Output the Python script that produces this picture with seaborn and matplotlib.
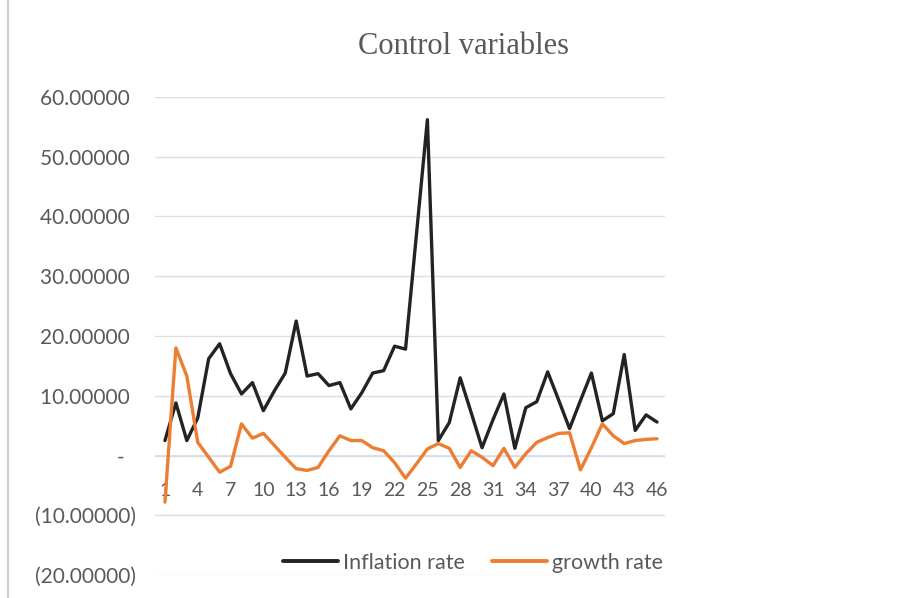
import numpy as np
import pandas as pd
import matplotlib
matplotlib.use("Agg")
import matplotlib.pyplot as plt
from matplotlib.lines import Line2D
from matplotlib.ticker import FuncFormatter, FixedLocator
import seaborn as sns

periods = list(range(1, 47))
inflation_rate = [2.5, 8.8, 2.5, 6.3, 16.2, 18.7, 13.7, 10.3, 12.2, 7.5,
                  10.8, 13.8, 22.5, 13.3, 13.7, 11.7, 12.2, 7.8, 10.5, 13.8,
                  14.2, 18.3, 17.8, 37.0, 56.2, 2.5, 5.5, 13.0, 7.2, 1.3,
                  6.0, 10.3, 1.2, 8.0, 9.0, 14.0, 9.3, 4.5, 9.2, 13.8,
                  5.8, 7.0, 16.9, 4.2, 6.8, 5.6]
growth_rate = [-7.8, 18.0, 13.3, 2.2, -0.3, -2.8, -1.8, 5.3, 2.9, 3.7,
               1.7, -0.3, -2.2, -2.5, -2.0, 0.8, 3.3, 2.5, 2.5, 1.3,
               0.8, -1.2, -3.8, -1.4, 1.1, 2.0, 1.2, -2.0, 0.8, -0.3,
               -1.7, 1.2, -2.0, 0.3, 2.2, 3.0, 3.7, 3.8, -2.4, 1.3,
               5.3, 3.3, 2.0, 2.5, 2.7, 2.8]
series_names = ["Inflation rate", "growth rate"]
x_tick_labels = list(range(1, 47, 3))
y_ticks = [-20, -10, 0, 10, 20, 30, 40, 50, 60]

df = pd.DataFrame({
    "period": periods * 2,
    "value": inflation_rate + growth_rate,
    "series": [series_names[0]] * len(periods) + [series_names[1]] * len(periods),
})

sns.set_style("white")
plt.rcParams["font.family"] = ["Lato", "DejaVu Sans"]

fig = plt.figure(figsize=(9.08, 5.98), dpi=100)
ax = fig.add_axes([155 / 908, 1 - 575 / 598, 510 / 908, (575 - 97) / 598])

palette = {"Inflation rate": "#232323", "growth rate": "#ED7D31"}
sns.lineplot(data=df, x="period", y="value", hue="series", palette=palette,
             linewidth=2.4, ax=ax, legend=False, zorder=3)

ax.set_xlim(0.09, 46.73)
ax.set_ylim(-20, 60)

# horizontal gridlines, excel style
ax.yaxis.set_major_locator(FixedLocator(y_ticks))
ax.grid(axis="y", color="#dedede", linewidth=1.0, zorder=0)
ax.grid(axis="x", visible=False)
ax.axhline(0, color="#d4dce8", linewidth=1.2, zorder=1)


def excel_fmt(v, pos):
    if abs(v) < 1e-9:
        return "-  "
    if v < 0:
        return f"({abs(v):.5f})"
    return f"{v:.5f} "


ax.yaxis.set_major_formatter(FuncFormatter(excel_fmt))
ax.tick_params(axis="y", length=0, pad=14, labelsize=15, labelcolor="#595959")

# category labels sit on the zero line
ax.spines["bottom"].set_position(("data", 0))
ax.set_xticks(x_tick_labels)
ax.set_xticklabels([str(v) for v in x_tick_labels])
ax.tick_params(axis="x", length=0, pad=19, labelsize=14, labelcolor="#595959")

for side in ["top", "right", "left", "bottom"]:
    ax.spines[side].set_visible(False)

ax.set_xlabel("")
ax.set_ylabel("")

fig.text(0.511, 1 - 46 / 598, "Control variables", ha="center", va="center",
         fontsize=22, color="#595959", family=["Liberation Serif", "DejaVu Serif"])

handles = [Line2D([0], [0], color=palette[n], linewidth=2.8) for n in series_names]
fig.legend(handles, series_names, loc="center", bbox_to_anchor=(0.521, 1 - 563 / 598),
           ncol=2, frameon=False, fontsize=15.5, handlelength=2.55, handletextpad=0.2,
           columnspacing=1.3, labelcolor="#595959")

# chart area border on the left
fig.add_artist(Line2D([8 / 908, 8 / 908], [0, 1], color="#d0d0d0", linewidth=1.5,
                      transform=fig.transFigure))

fig.savefig("out.png", dpi=100)
